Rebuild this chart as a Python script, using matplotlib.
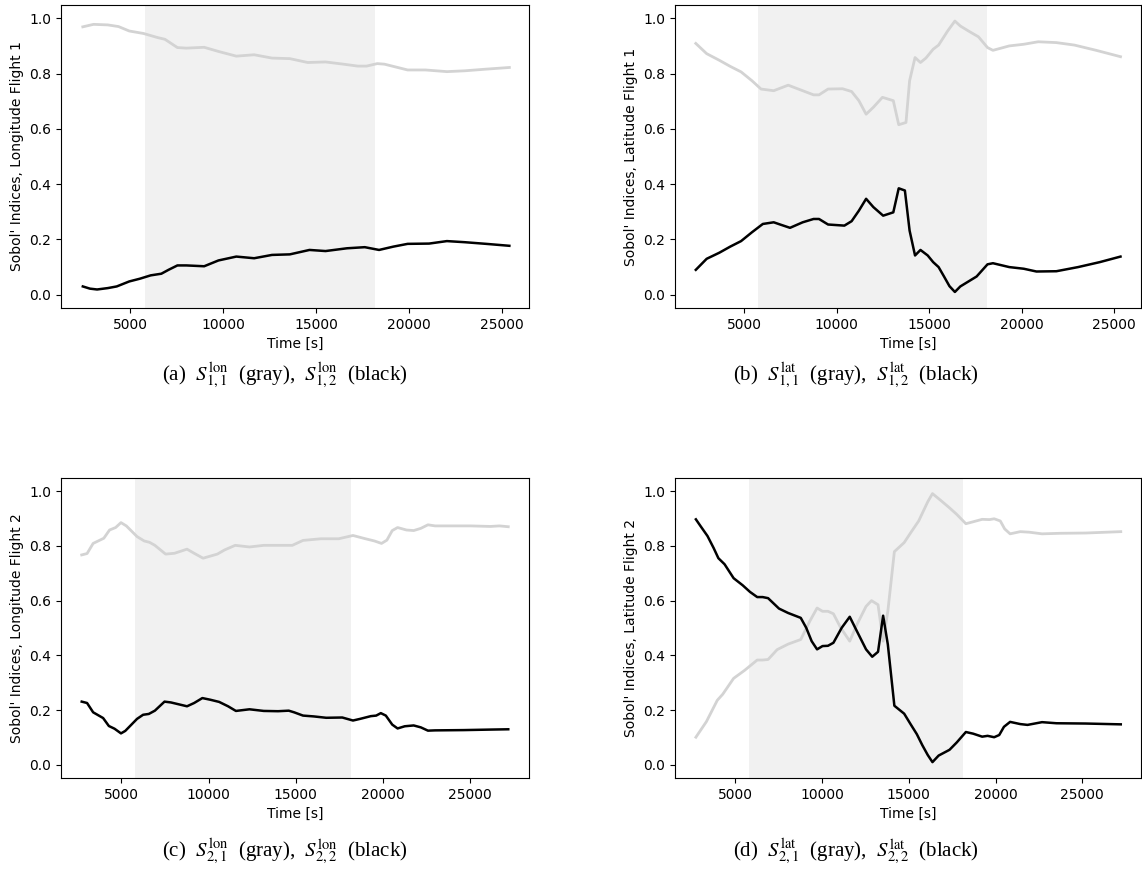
import matplotlib
matplotlib.use("Agg")
import matplotlib.pyplot as plt

plt.rcParams['mathtext.fontset'] = 'stix'

# flight 1, longitude
t_a_gray = [2447, 3023, 3790, 4367, 4942, 5710, 6478, 6862, 7534, 8013, 8973, 9741,
            10700, 11660, 12620, 13580, 14540, 15499, 16459, 17227, 17706, 18282,
            18666, 19914, 20873, 22025, 22985, 24136, 25384]
s_a_gray = [0.969, 0.978, 0.976, 0.970, 0.954, 0.945, 0.930, 0.924, 0.894, 0.892, 0.895,
            0.880, 0.863, 0.868, 0.856, 0.854, 0.840, 0.842, 0.834, 0.827, 0.827, 0.836,
            0.834, 0.813, 0.813, 0.807, 0.810, 0.816, 0.822]
t_a_black = [2447, 2831, 3215, 3790, 4271, 4942, 5518, 6094, 6670, 7054, 7534, 8013,
             8973, 9741, 10700, 11660, 12620, 13580, 14636, 15499, 16651, 17610, 18378,
             19146, 19914, 21066, 22025, 22985, 24136, 25384]
s_a_black = [0.030, 0.022, 0.019, 0.024, 0.030, 0.048, 0.058, 0.070, 0.076, 0.090, 0.106,
             0.106, 0.103, 0.124, 0.138, 0.132, 0.144, 0.146, 0.162, 0.158, 0.168, 0.172,
             0.162, 0.174, 0.184, 0.185, 0.194, 0.190, 0.184, 0.177]

# flight 1, latitude
t_b_gray = [2397, 2984, 3669, 4256, 4843, 5431, 5920, 6605, 7387, 8170, 8757, 9051, 9540,
            10323, 10812, 11204, 11595, 11986, 12476, 13063, 13356, 13748, 13943, 14237,
            14530, 14824, 15215, 15509, 15998, 16389, 16683, 17172, 17661, 18151, 18444,
            19325, 20108, 20890, 21869, 22847, 24022, 25333]
s_b_gray = [0.909, 0.872, 0.848, 0.826, 0.806, 0.774, 0.744, 0.738, 0.758, 0.738, 0.723,
            0.723, 0.744, 0.745, 0.735, 0.702, 0.653, 0.678, 0.714, 0.702, 0.615, 0.623,
            0.774, 0.858, 0.840, 0.856, 0.888, 0.903, 0.954, 0.990, 0.972, 0.952, 0.933,
            0.894, 0.884, 0.900, 0.906, 0.915, 0.912, 0.903, 0.884, 0.861]
t_b_black = [2397, 2984, 3669, 4256, 4843, 5431, 6018, 6605, 6996, 7485, 8170, 8757, 9051,
             9540, 10421, 10812, 11204, 11595, 11986, 12515, 13063, 13356, 13689, 13943,
             14237, 14530, 14922, 15215, 15509, 15802, 16096, 16389, 16683, 17074, 17563,
             18151, 18444, 19325, 20108, 20793, 21869, 23043, 24217, 25333]
s_b_black = [0.090, 0.130, 0.152, 0.174, 0.194, 0.226, 0.256, 0.262, 0.253, 0.242, 0.262,
             0.274, 0.274, 0.254, 0.250, 0.266, 0.304, 0.347, 0.317, 0.286, 0.298, 0.385,
             0.377, 0.232, 0.142, 0.162, 0.142, 0.118, 0.100, 0.066, 0.031, 0.010, 0.030,
             0.046, 0.066, 0.110, 0.114, 0.100, 0.094, 0.084, 0.085, 0.100, 0.118, 0.138]

# flight 2, longitude
t_c_gray = [2728, 3035, 3383, 3997, 4324, 4672, 4980, 5287, 5901, 6310, 6617, 6924, 7538,
            8050, 8767, 9176, 9688, 10507, 10916, 11530, 12349, 13168, 14191, 14806, 15420,
            16443, 17467, 18285, 19002, 19514, 19923, 20230, 20537, 20844, 21356, 21766,
            22175, 22584, 22994, 24018, 25041, 26167, 26679, 27191]
s_c_gray = [0.767, 0.772, 0.809, 0.828, 0.858, 0.867, 0.885, 0.873, 0.834, 0.818, 0.813,
            0.802, 0.770, 0.773, 0.788, 0.773, 0.755, 0.770, 0.785, 0.802, 0.796, 0.802,
            0.802, 0.802, 0.820, 0.826, 0.826, 0.838, 0.826, 0.818, 0.809, 0.821, 0.856,
            0.867, 0.858, 0.856, 0.864, 0.877, 0.873, 0.873, 0.873, 0.871, 0.873, 0.870]
t_c_black = [2728, 3035, 3383, 3956, 4284, 4611, 4980, 5225, 5594, 5901, 6249, 6576, 6924,
             7477, 7845, 8767, 9176, 9647, 10097, 10609, 11121, 11571, 12349, 13168, 13987,
             14601, 14908, 15420, 16034, 16750, 17672, 18285, 18694, 19309, 19616, 19882,
             20169, 20537, 20844, 21254, 21766, 22175, 22584, 22994, 24631, 26269, 27191]
s_c_black = [0.231, 0.226, 0.192, 0.171, 0.142, 0.132, 0.115, 0.124, 0.148, 0.168, 0.183,
             0.186, 0.198, 0.231, 0.228, 0.214, 0.226, 0.244, 0.238, 0.230, 0.214, 0.197,
             0.203, 0.197, 0.196, 0.198, 0.192, 0.180, 0.177, 0.172, 0.173, 0.162, 0.168,
             0.178, 0.180, 0.189, 0.180, 0.147, 0.133, 0.141, 0.144, 0.137, 0.125, 0.126,
             0.127, 0.129, 0.130]

# flight 2, latitude
t_d_gray = [2743, 3349, 3976, 4289, 4916, 5543, 6275, 6588, 6902, 7424, 8051, 8783, 9305,
            9723, 10037, 10350, 10664, 11082, 11604, 12022, 12544, 12858, 13234, 13527,
            13798, 14175, 14739, 15157, 15575, 16097, 16369, 16829, 17351, 17769, 18292,
            18710, 19232, 19650, 19922, 20277, 20528, 20841, 21426, 21949, 22680, 23725,
            25188, 27215]
s_d_gray = [0.101, 0.158, 0.236, 0.258, 0.316, 0.345, 0.383, 0.383, 0.385, 0.421, 0.441,
            0.458, 0.525, 0.573, 0.561, 0.561, 0.552, 0.501, 0.452, 0.513, 0.579, 0.600,
            0.585, 0.452, 0.561, 0.779, 0.812, 0.852, 0.891, 0.961, 0.991, 0.967, 0.939,
            0.915, 0.881, 0.888, 0.897, 0.896, 0.899, 0.891, 0.862, 0.844, 0.852, 0.850,
            0.844, 0.846, 0.847, 0.852]
t_d_black = [2743, 3036, 3412, 3767, 4039, 4394, 4916, 5439, 5857, 6275, 6588, 6902, 7529,
             8051, 8783, 9096, 9410, 9723, 10037, 10350, 10664, 11144, 11604, 11917, 12544,
             12899, 13234, 13527, 13798, 14175, 14739, 15115, 15470, 15784, 16097, 16369,
             16725, 17351, 17769, 18292, 18710, 19232, 19546, 19922, 20214, 20486, 20841,
             21426, 21844, 22680, 23516, 25188, 27215]
s_d_black = [0.897, 0.870, 0.836, 0.792, 0.755, 0.733, 0.682, 0.656, 0.632, 0.613, 0.613,
             0.609, 0.571, 0.555, 0.537, 0.501, 0.452, 0.422, 0.434, 0.435, 0.446, 0.501,
             0.541, 0.501, 0.422, 0.395, 0.413, 0.545, 0.440, 0.216, 0.187, 0.148, 0.112,
             0.072, 0.036, 0.010, 0.034, 0.055, 0.082, 0.120, 0.114, 0.103, 0.106, 0.101,
             0.109, 0.139, 0.157, 0.149, 0.146, 0.156, 0.152, 0.151, 0.148]

ylabels = ["Sobol' Indices, Longitude Flight 1", "Sobol' Indices, Latitude Flight 1",
           "Sobol' Indices, Longitude Flight 2", "Sobol' Indices, Latitude Flight 2"]
captions = [r"(a)  $S_{1,1}^{\mathrm{lon}}$  (gray),  $S_{1,2}^{\mathrm{lon}}$  (black)",
            r"(b)  $S_{1,1}^{\mathrm{lat}}$  (gray),  $S_{1,2}^{\mathrm{lat}}$  (black)",
            r"(c)  $S_{2,1}^{\mathrm{lon}}$  (gray),  $S_{2,2}^{\mathrm{lon}}$  (black)",
            r"(d)  $S_{2,1}^{\mathrm{lat}}$  (gray),  $S_{2,2}^{\mathrm{lat}}$  (black)"]
shade = (5780, 18150)

W, H = 1142, 873
fig = plt.figure(figsize=(W / 100, H / 100), dpi=100)

# pixel boxes: left, right, top, bottom
boxes = [(61, 529, 5, 308), (675, 1141, 5, 308),
         (61, 529, 478, 778), (675, 1141, 478, 778)]
xlims = [(1274, 26440), (1274, 26440), (1540, 28380), (1540, 28380)]
cap_pos = [(285, 375), (856, 375), (285, 851), (856, 851)]

series = [(t_a_gray, s_a_gray, t_a_black, s_a_black),
          (t_b_gray, s_b_gray, t_b_black, s_b_black),
          (t_c_gray, s_c_gray, t_c_black, s_c_black),
          (t_d_gray, s_d_gray, t_d_black, s_d_black)]

for i in range(4):
    l, r, t, b = boxes[i]
    ax = fig.add_axes([l / W, 1 - b / H, (r - l) / W, (b - t) / H])
    ax.axvspan(shade[0], shade[1], color='#f1f1f1', lw=0)
    tg, sg, tb, sb = series[i]
    ax.plot(tg, sg, color='#d3d3d3', lw=2)
    ax.plot(tb, sb, color='black', lw=1.8)
    ax.set_xlim(*xlims[i])
    ax.set_ylim(-0.048, 1.048)
    ax.set_xticks([5000, 10000, 15000, 20000, 25000])
    ax.set_yticks([0.0, 0.2, 0.4, 0.6, 0.8, 1.0])
    ax.tick_params(labelsize=10)
    ax.set_xlabel("Time [s]", fontsize=10)
    ax.set_ylabel(ylabels[i], fontsize=10)
    cx, cy = cap_pos[i]
    fig.text(cx / W, 1 - cy / H, captions[i], ha='center', va='center',
             fontsize=15, family='Liberation Serif')

fig.savefig("out.png", dpi=100)
